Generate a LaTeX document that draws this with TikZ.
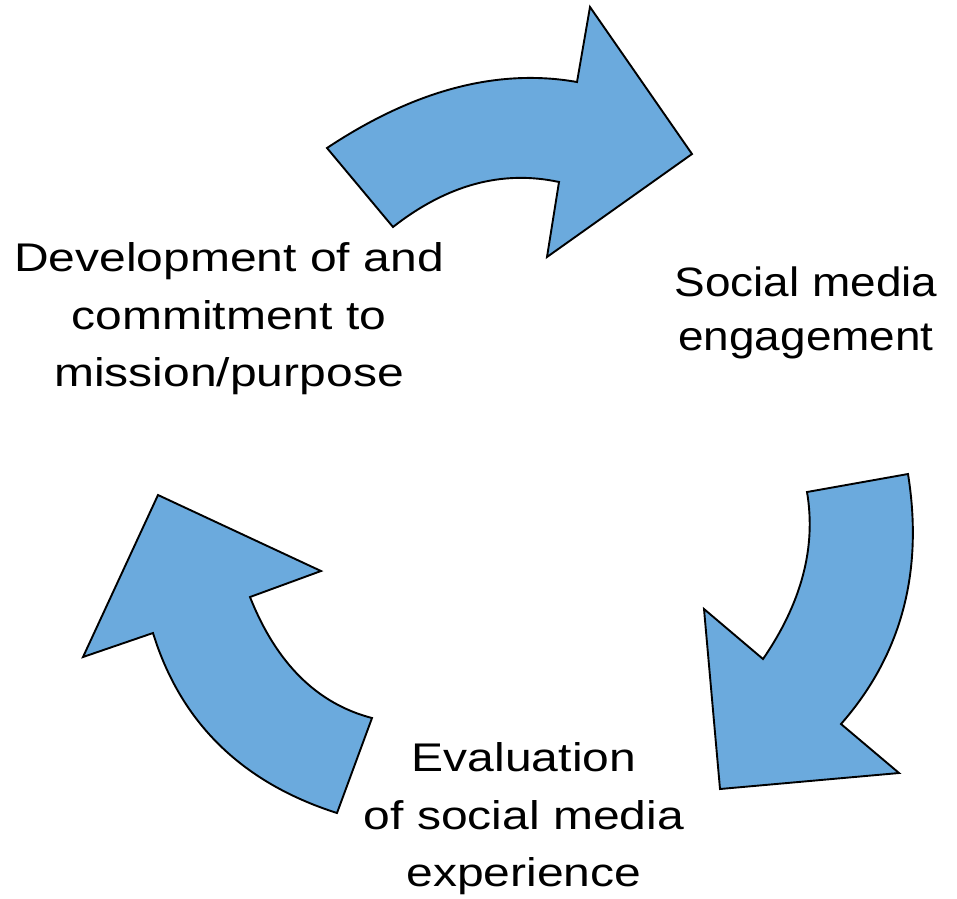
\documentclass[tikz,border=0pt]{standalone}
\usepackage{fontspec}
\setmainfont{Liberation Sans}
\usepackage{graphicx}
\definecolor{arrowblue}{RGB}{107,170,221}
\tikzset{
  cyclearrow/.style={fill=arrowblue, draw=black, line width=1.9pt, line join=miter},
  label/.style={align=center, font=\fontsize{40}{57.5}\selectfont, inner sep=0pt, anchor=base}
}
\newcommand{\wide}[1]{\scalebox{1.2}[1]{#1}}
\newcommand{\widesm}[1]{\scalebox{1.12}[1]{#1}}
\begin{document}
\begin{tikzpicture}[x=1pt, y=-1pt]
\useasboundingbox (0,0) rectangle (957,898);
% top arrow
\draw[cyclearrow] (327,148) .. controls (414.3,90) and (497.7,68) .. (577,82)
  -- (590,7) -- (692,154) -- (547,257) -- (559,182)
  .. controls (502.3,169.7) and (447,184.7) .. (393,227) -- cycle;
% right arrow
\draw[cyclearrow] (908,474) .. controls (923.7,572) and (901.3,655.3) .. (841,724)
  -- (899,773) -- (720,789) -- (704,609) -- (763,659)
  .. controls (801.7,602.7) and (816.3,547) .. (807,492) -- cycle;
% left arrow
\draw[cyclearrow] (337,813) .. controls (242,782.7) and (180.7,722.7) .. (153,633)
  -- (83,657) -- (158,495) -- (321,571) -- (250,597)
  .. controls (276.3,663.3) and (317,703.7) .. (372,718) -- cycle;
% labels (base anchor = baseline of the last line)
\node[label] (mission) at (229,386.7) {\wide{Development of and}\\\wide{commitment to}\\\wide{mission/purpose}};
\node[label, font=\fontsize{41}{54}\selectfont] (social) at (806,350.5) {\widesm{Social media}\\\widesm{engagement}};
\node[label] (evaluation) at (524,886.7) {\wide{Evaluation}\\\wide{of social media}\\\wide{experience}};
\end{tikzpicture}
\end{document}
